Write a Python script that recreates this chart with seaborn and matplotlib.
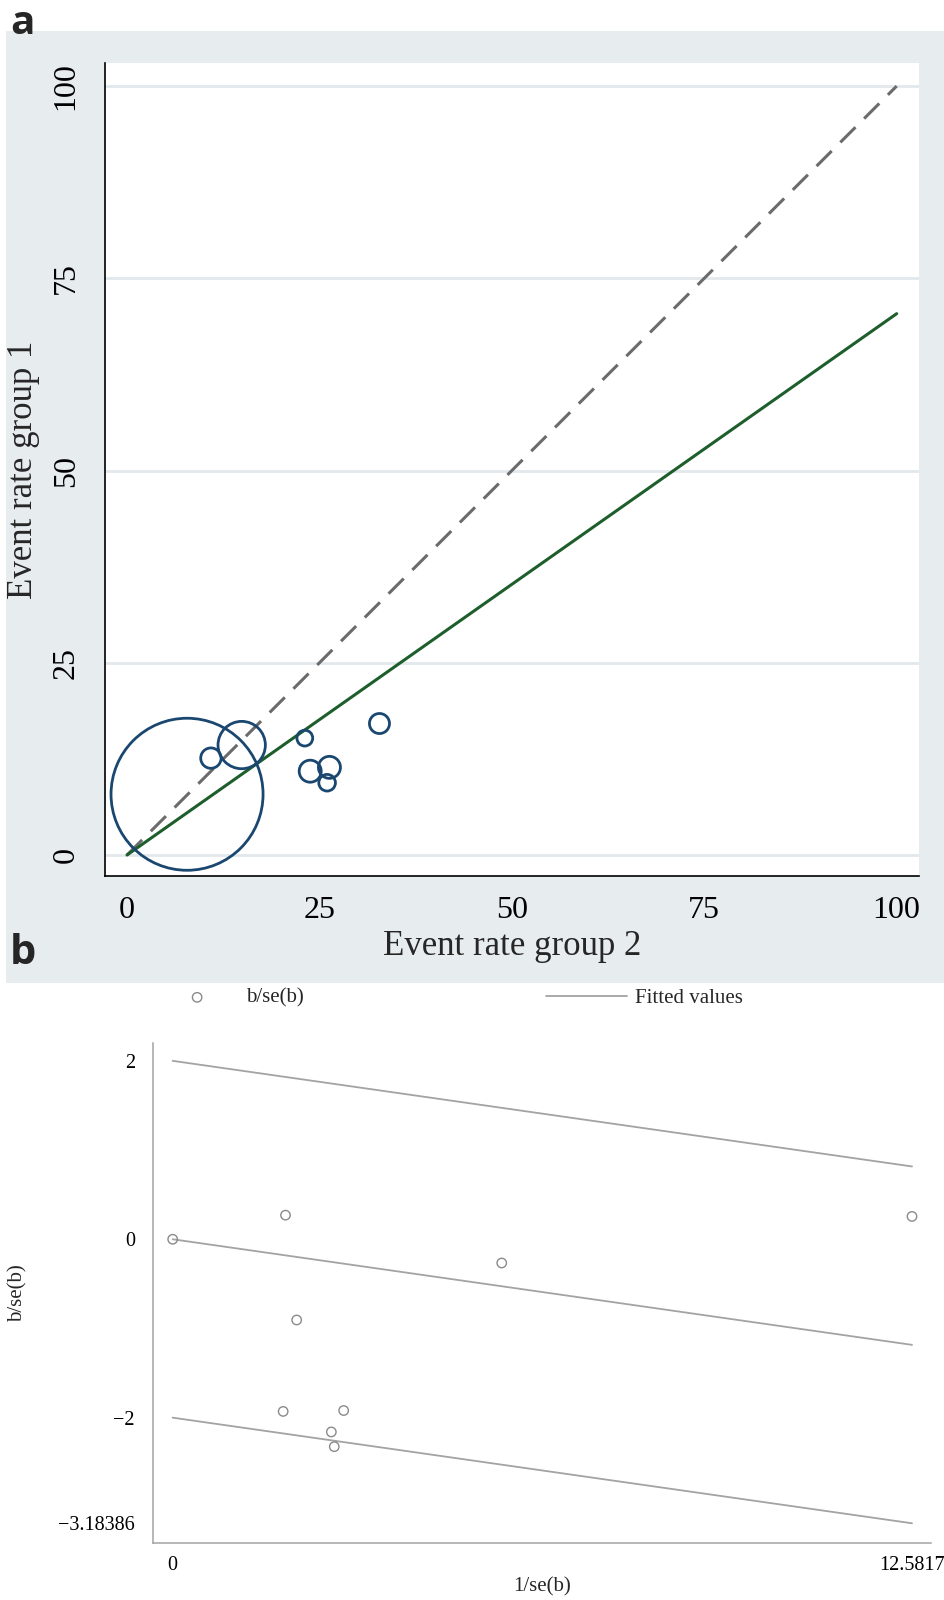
import numpy as np
import matplotlib
matplotlib.use("Agg")
import matplotlib.pyplot as plt
import seaborn as sns
from matplotlib.patches import Rectangle

# panel a: event rates per study (group 2 on x, group 1 on y) and study weight (%)
RATE_G2 = [7.8, 14.9, 10.9, 23.1, 32.8, 23.8, 26.3, 26.0]
RATE_G1 = [7.9, 14.3, 12.6, 15.2, 17.1, 10.9, 11.4, 9.4]
WEIGHT = [83.5, 8.1, 1.5, 0.9, 1.45, 1.75, 1.75, 1.0]
LINE_X = [0, 100]
NULL_Y = [0, 100]
POOLED_Y = [0, 70.4]
TICKS_A = [0, 25, 50, 75, 100]

# panel b: Galbraith plot
INV_SE = [0.0, 1.92, 2.11, 1.88, 2.91, 2.70, 2.75, 5.60, 12.5817]
Z_STAT = [0.0, 0.27, -0.905, -1.93, -1.92, -2.16, -2.325, -0.266, 0.256]
FIT_X = [0, 12.5817]
FIT_MID = [0, -1.18386]
BAND = [2, 0, -2]
XTICKS_B = [0, 3.1454, 6.2909, 9.4363, 12.5817]
XTICKLABELS_B = ["0", "", "", "", "12.5817"]
YTICKS_B = [2, 0, -2, -3.18386]
YTICKLABELS_B = ["2", "0", "\u22122", "\u22123.18386"]

BG_GRAY = "#e7ecef"
GRID = "#e2e8ec"
NAVY = "#1a476f"
GREEN = "#1d5e2c"
DASH = "#6b6b6b"
LIGHT = "#a3a3a3"

sns.set_style("white")
plt.rcParams["font.family"] = ["Liberation Serif", "DejaVu Serif"]

W, H = 944, 1600
fig = plt.figure(figsize=(W / 100, H / 100), dpi=100)
fig.patch.set_facecolor("white")

# gray panel behind plot a
fig.add_artist(Rectangle((6 / W, (H - 983) / H), 1 - 6 / W, (983 - 31) / H,
                         transform=fig.transFigure, facecolor=BG_GRAY,
                         edgecolor="none", zorder=-10))

# --- panel a ---
ax_a = fig.add_axes([105 / W, (H - 876) / H, (919 - 105) / W, (876 - 63) / H])
ax_a.set_facecolor("white")

K = 143.5
sns.scatterplot(x=RATE_G2, y=RATE_G1, size=WEIGHT,
                sizes=(min(WEIGHT) * K, max(WEIGHT) * K),
                facecolor="none", edgecolor=NAVY, linewidth=2.0,
                legend=False, ax=ax_a, zorder=3, clip_on=False)
sns.lineplot(x=LINE_X, y=NULL_Y, color=DASH, lw=2.2,
             linestyle=(0, (7, 4)), ax=ax_a, zorder=2)
sns.lineplot(x=LINE_X, y=POOLED_Y, color=GREEN, lw=2.2, ax=ax_a, zorder=2)

ax_a.set_xlim(-2.86, 102.9)
ax_a.set_ylim(-2.73, 103)
ax_a.set_xticks(TICKS_A)
ax_a.set_yticks(TICKS_A)
ax_a.yaxis.grid(True, color=GRID, lw=2)
ax_a.xaxis.grid(False)
ax_a.set_axisbelow(True)
for side in ["top", "right"]:
    ax_a.spines[side].set_visible(False)
for side in ["left", "bottom"]:
    ax_a.spines[side].set_color("black")
    ax_a.spines[side].set_linewidth(1.2)
ax_a.tick_params(axis="both", direction="out", length=8.5, width=1.2,
                 color="black", labelsize=23, labelcolor="black")
ax_a.tick_params(axis="y", pad=9)
ax_a.tick_params(axis="x", pad=6)
for lbl in ax_a.get_yticklabels():
    lbl.set_rotation(90)
    lbl.set_va("center")
ax_a.set_xlabel("Event rate group 2", fontsize=25)
ax_a.set_ylabel("Event rate group 1", fontsize=25)
ax_a.xaxis.set_label_coords(0.5, -0.066)
ax_a.yaxis.set_label_coords(-0.08, 0.5)

# --- panel b ---
ax_b = fig.add_axes([153 / W, (H - 1543) / H, (930.7 - 153) / W, (1543 - 1043) / H])
ax_b.set_facecolor("white")

for i, off in enumerate(BAND):
    sns.lineplot(x=FIT_X, y=np.array(FIT_MID) + off, color=LIGHT, lw=1.3,
                 ax=ax_b, label="Fitted values" if i == 0 else None, zorder=2)
sns.scatterplot(x=INV_SE, y=Z_STAT, s=46, facecolor="none", edgecolor="#8a8a8a",
                linewidth=1.0, ax=ax_b, label="b/se(b)", zorder=3)

ax_b.set_xlim(-0.335, 12.9)
ax_b.set_ylim(-3.405, 2.20)
ax_b.set_xticks(XTICKS_B)
ax_b.set_xticklabels(XTICKLABELS_B)
ax_b.set_yticks(YTICKS_B)
ax_b.set_yticklabels(YTICKLABELS_B)
for side in ["top", "right"]:
    ax_b.spines[side].set_visible(False)
for side in ["left", "bottom"]:
    ax_b.spines[side].set_color(LIGHT)
    ax_b.spines[side].set_linewidth(1.1)
ax_b.tick_params(axis="both", direction="out", length=7, width=1.0,
                 color=LIGHT, labelsize=14.5, labelcolor="black")
ax_b.tick_params(axis="y", pad=6)
ax_b.tick_params(axis="x", pad=2)
ax_b.set_xlabel("1/se(b)", fontsize=15)
ax_b.set_ylabel("b/se(b)", fontsize=15)
ax_b.xaxis.set_label_coords(0.5, -0.068)
ax_b.yaxis.set_label_coords(-0.161, 0.5)

handles, labels = ax_b.get_legend_handles_labels()
order = [labels.index("b/se(b)"), labels.index("Fitted values")]
ax_b.legend([handles[i] for i in order], [labels[i] for i in order],
            ncol=2, loc="center left", bbox_to_anchor=(156.5 / W, (H - 998) / H),
            bbox_transform=fig.transFigure, frameon=False, fontsize=15,
            handlelength=3.9, handletextpad=0.4, columnspacing=11.6,
            borderpad=0, borderaxespad=0, markerscale=1.0)

# panel letters
fig.text(10 / W, (H - 34) / H, "a", family="Open Sans", weight="bold",
         fontsize=29, va="baseline", ha="left")
fig.text(10 / W, (H - 964) / H, "b", family="Open Sans", weight="bold",
         fontsize=30, va="baseline", ha="left")

fig.savefig("out.png", dpi=100, facecolor="white")
